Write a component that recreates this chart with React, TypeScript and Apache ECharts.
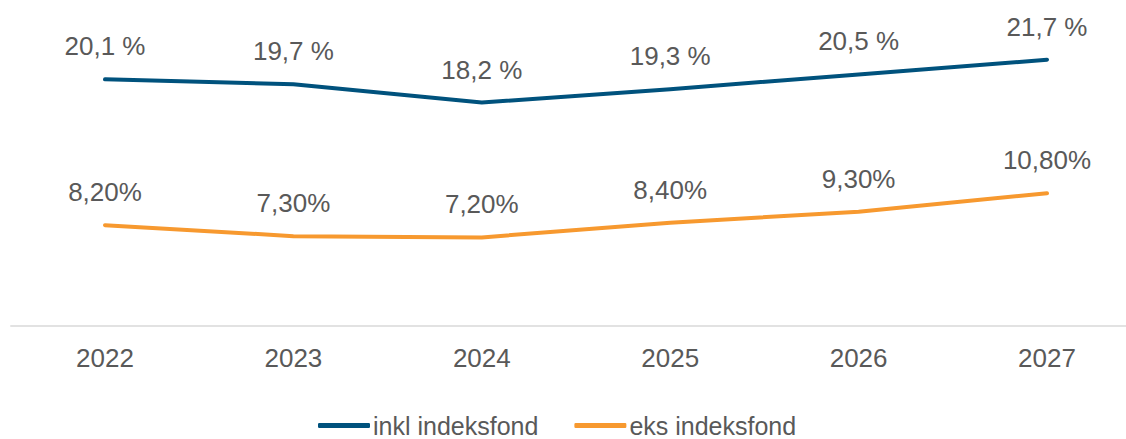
import React, { useEffect, useRef } from "react";
import * as echarts from "echarts";

const years = ["2022", "2023", "2024", "2025", "2026", "2027"];
const inkl = [20.1, 19.7, 18.2, 19.3, 20.5, 21.7];
const eks = [8.2, 7.3, 7.2, 8.4, 9.3, 10.8];
const seriesNames = ["inkl indeksfond", "eks indeksfond"];

const TEXT = "#595959";
const BLUE = "#00527d";
const ORANGE = "#f7992f";
const FONT = "Liberation Sans, Arial, sans-serif";

export default function App() {
  const ref = useRef<HTMLDivElement>(null);
  useEffect(() => {
    if (!ref.current) return;
    const chart = echarts.init(ref.current, undefined, { renderer: "svg" });
    const labelBase = {
      show: true,
      position: "top",
      distance: 19.5,
      color: TEXT,
      fontSize: 26,
      lineHeight: 26,
      fontFamily: FONT,
    };
    chart.setOption({
      animation: false,
      textStyle: { fontFamily: FONT },
      grid: {
        left: 10.8,
        width: 1130.4,
        top: 19.3,
        height: 306.3,
        containLabel: false,
        outerBoundsMode: "none",
      },
      xAxis: {
        type: "category",
        data: years,
        boundaryGap: true,
        axisLine: { show: true, lineStyle: { color: "#d9d9d9", width: 1.5 } },
        axisTick: { show: false },
        axisLabel: { color: TEXT, fontSize: 26, fontFamily: FONT, margin: 19 },
      },
      yAxis: {
        type: "value",
        min: 0,
        max: 25,
        show: false,
        splitLine: { show: false },
      },
      legend: {
        data: seriesNames,
        left: 318,
        top: 413,
        padding: 0,
        itemGap: 36,
        itemWidth: 52,
        itemHeight: 5,
        icon: "roundRect",
        textStyle: { color: TEXT, fontSize: 25, lineHeight: 22, fontFamily: FONT, padding: [0, 0, 0, -2] },
      },
      series: [
        {
          name: seriesNames[0],
          type: "line",
          data: inkl,
          symbol: "circle",
          symbolSize: 1,
          showSymbol: true,
          color: BLUE,
          itemStyle: { color: BLUE },
          lineStyle: { color: BLUE, width: 4, cap: "round", join: "round" },
          label: {
            ...labelBase,
            formatter: (p: any) => p.value.toFixed(1).replace(".", ",") + " %",
          },
        },
        {
          name: seriesNames[1],
          type: "line",
          data: eks,
          symbol: "circle",
          symbolSize: 1,
          showSymbol: true,
          color: ORANGE,
          itemStyle: { color: ORANGE },
          lineStyle: { color: ORANGE, width: 4, cap: "round", join: "round" },
          label: {
            ...labelBase,
            formatter: (p: any) => p.value.toFixed(2).replace(".", ",") + "%",
          },
        },
      ],
    });
    return () => chart.dispose();
  }, []);
  return (
    <div
      ref={ref}
      style={{ position: "fixed", left: 0, top: 0, width: 1126, height: 439, background: "#fff" }}
    />
  );
}
